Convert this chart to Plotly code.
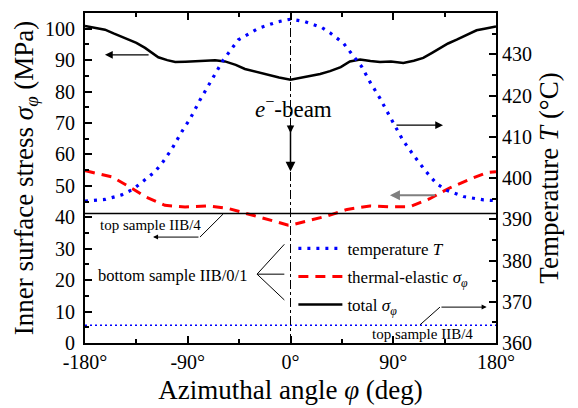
import plotly.graph_objects as go

# ---------------- data ----------------
phi_total = [-180, -170, -162.5, -155, -145, -135, -127.4, -120, -115.8, -108, -101, -92,
             -83.6, -75, -66, -57.4, -48, -39.9, -30, -22.3, -10, 0, 8, 17, 26, 34.6, 44,
             52, 61, 70, 78.4, 88, 98.8, 108, 116.3, 124, 130.9, 138, 145.6, 155, 163, 170,
             177.6, 180]
sigma_total = [100.9, 100.3, 99.7, 98.5, 97.0, 95.5, 93.9, 92.0, 90.9, 90.0, 89.4, 89.5,
               89.6, 89.8, 90.0, 89.6, 88.5, 87.2, 86.3, 85.4, 84.5, 83.8, 84.3, 84.9, 85.6,
               86.5, 87.8, 89.6, 90.2, 89.7, 89.4, 89.6, 89.1, 89.8, 90.7, 92.3, 93.9, 95.3,
               96.5, 98.2, 99.5, 100.0, 100.7, 100.7]

phi_temp = [-180, -162.5, -147.9, -137.7, -126, -118.8, -111.5, -104, -95.3, -88, -79.3,
            -69, -58.9, -45.7, -28.2, -10.7, 0, 4.4, 12.7, 27.3, 34.6, 46.3, 52, 62.3, 69.6,
            78.4, 87, 98.8, 108.4, 118, 128, 137, 151.5, 169, 180]
temp_T = [394.4, 394.8, 395.9, 397.3, 399.9, 401.5, 404.0, 407.0, 411.2, 414.3, 418.9,
          423.8, 428.6, 433.5, 436.3, 437.9, 438.5, 438.3, 437.9, 436.5, 435.2, 432.7, 430.6,
          427.0, 423.3, 419.3, 414.9, 409.0, 405.3, 401.8, 398.6, 397.0, 395.5, 394.7, 394.5]

phi_therm = [-180, -178.5, -156.7, -142, -127.4, -110, -92.4, -72, -54.5, -37, -19.5, -1.9,
             0, 14.6, 32, 49.6, 69.6, 87, 104.6, 122, 139.7, 157, 171.9, 180]
sigma_therm = [54.8, 54.7, 52.9, 49.9, 46.6, 43.8, 43.3, 43.6, 42.8, 41.0, 39.2, 37.5,
               37.5, 38.8, 40.4, 42.5, 43.6, 43.3, 43.4, 45.9, 49.4, 52.1, 54.2, 54.5]

phi_span = [-180, 180]
sigma_total_top = 41.2     # top sample IIB/4, total stress (MPa)
temp_top = 364.3           # top sample IIB/4, temperature (°C)

x_tickvals = [-180, -90, 0, 90, 180]
x_ticktext = ["-180°", "-90°", "0°", "90°", "180°"]

FONT = "Liberation Serif"

fig = go.Figure()

fig.add_trace(go.Scatter(
    x=phi_temp, y=temp_T, yaxis="y2", mode="lines", name="temperature <i>T</i>",
    legendgroup="a", line=dict(color="#0000ff", width=3.2, dash="3px,6px")))
fig.add_trace(go.Scatter(
    x=phi_therm, y=sigma_therm, mode="lines", name="thermal-elastic <i>σ</i><sub><i>φ</i></sub>",
    legendgroup="b", line=dict(color="#ff0000", width=3, dash="10px,7px")))
fig.add_trace(go.Scatter(
    x=phi_total, y=sigma_total, mode="lines", name="total <i>σ</i><sub><i>φ</i></sub>",
    legendgroup="c", line=dict(color="black", width=2.5)))
fig.add_trace(go.Scatter(
    x=phi_span, y=[sigma_total_top] * 2, mode="lines", showlegend=False,
    line=dict(color="black", width=1.3)))
fig.add_trace(go.Scatter(
    x=phi_span, y=[temp_top] * 2, yaxis="y2", mode="lines", showlegend=False,
    line=dict(color="#0000ff", width=1.5, dash="2px,3px")))

ann = []
# arrows showing which axis belongs to which curve
ann.append(dict(x=-162.5, y=91.7, ax=-123, ay=91.7, xref="x", yref="y", axref="x", ayref="y",
                text="", showarrow=True, arrowhead=2, arrowsize=1.2, arrowwidth=1.3,
                arrowcolor="black"))
ann.append(dict(x=133.6, y=412.8, ax=91.5, ay=412.8, xref="x", yref="y2", axref="x", ayref="y2",
                text="", showarrow=True, arrowhead=2, arrowsize=1.2, arrowwidth=1.3,
                arrowcolor="black"))
ann.append(dict(x=87.1, y=47, ax=128, ay=47, xref="x", yref="y", axref="x", ayref="y",
                text="", showarrow=True, arrowhead=2, arrowsize=1.0, arrowwidth=2,
                arrowcolor="#808080"))
# e-beam
ann.append(dict(x=3, y=75.0, xref="x", yref="y", text="<i>e</i><sup>−</sup>-beam",
                showarrow=False, font=dict(family=FONT, size=23, color="black")))
ann.append(dict(x=0, y=54.6, ax=0, ay=69.8, xref="x", yref="y", axref="x", ayref="y",
                text="", showarrow=True, arrowhead=2, arrowsize=1.3, arrowwidth=1.5,
                arrowcolor="black"))
ann.append(dict(x=0, y=66.8, ax=0, ay=69.8, xref="x", yref="y", axref="x", ayref="y",
                text="", showarrow=True, arrowhead=2, arrowsize=1.0, arrowwidth=1.5,
                arrowcolor="black"))
# labels
ann.append(dict(x=-122.2, y=37.6, xref="x", yref="y", text="top sample IIB/4",
                showarrow=False, font=dict(family=FONT, size=15, color="black")))
ann.append(dict(x=-120.4, y=33.7, ax=-79.3, ay=33.7, xref="x", yref="y", axref="x", ayref="y",
                text="", showarrow=True, arrowhead=2, arrowsize=1.0, arrowwidth=1,
                arrowcolor="black"))
ann.append(dict(x=-103.4, y=21.6, xref="x", yref="y", text="bottom sample IIB/0/1",
                showarrow=False, font=dict(family=FONT, size=16.5, color="black")))
ann.append(dict(x=115.5, y=362.1, xref="x", yref="y2", text="top sample IIB/4",
                showarrow=False, font=dict(family=FONT, size=15, color="black")))
ann.append(dict(x=171.8, y=368.7, ax=130.9, ay=368.7, xref="x", yref="y2", axref="x", ayref="y2",
                text="", showarrow=True, arrowhead=2, arrowsize=1.0, arrowwidth=1,
                arrowcolor="black"))

shapes = [
    dict(type="line", xref="x", yref="paper", x0=0, x1=0, y0=0, y1=1,
         line=dict(color="black", width=1, dash="dashdot")),
    dict(type="line", xref="x", yref="y", x0=-59.1, y0=41.0, x1=-79.3, y1=33.7,
         line=dict(color="black", width=1)),
    dict(type="line", xref="x", yref="y", x0=-29.3, y0=21.9, x1=-5.4, y1=31.4,
         line=dict(color="black", width=1)),
    dict(type="line", xref="x", yref="y", x0=-29.3, y0=21.9, x1=-5.4, y1=21.9,
         line=dict(color="black", width=1)),
    dict(type="line", xref="x", yref="y", x0=-29.3, y0=21.9, x1=-5.4, y1=13.7,
         line=dict(color="black", width=1)),
    dict(type="line", xref="x", yref="y2", x0=113.4, y0=364.4, x1=130.9, y1=368.7,
         line=dict(color="black", width=1)),
]

fig.update_layout(
    width=570, height=400,
    margin=dict(l=77, r=82, t=5, b=65, autoexpand=False),
    paper_bgcolor="white", plot_bgcolor="white",
    font=dict(family=FONT, color="black"),
    showlegend=True,
    legend=dict(x=0.507, y=0.34, xanchor="left", yanchor="top", bgcolor="rgba(0,0,0,0)",
                font=dict(family=FONT, size=17, color="black"), itemwidth=44,
                tracegroupgap=3, traceorder="grouped"),
    xaxis=dict(range=[-180, 180], tickvals=x_tickvals, ticktext=x_ticktext,
               ticks="inside", ticklen=7, tickwidth=1.5, tickcolor="black",
               showline=True, linecolor="black", linewidth=2, mirror="ticks",
               showgrid=False, zeroline=False, automargin=False,
               minor=dict(dtick=45, tick0=0, ticks="inside", ticklen=4, tickwidth=1.5,
                          tickcolor="black", showgrid=False),
               tickfont=dict(family=FONT, size=20, color="black"),
               title=dict(text="Azimuthal angle <i>φ</i> (deg)", standoff=8,
                          font=dict(family=FONT, size=27, color="black"))),
    yaxis=dict(range=[0, 105], tickvals=[0, 10, 20, 30, 40, 50, 60, 70, 80, 90, 100],
               ticks="inside", ticklen=7, tickwidth=1.5, tickcolor="black",
               showline=True, linecolor="black", linewidth=2,
               showgrid=False, zeroline=False, automargin=False, ticklabelstandoff=4,
               minor=dict(dtick=5, tick0=0, ticks="inside", ticklen=4, tickwidth=1.5,
                          tickcolor="black", showgrid=False),
               tickfont=dict(family=FONT, size=20, color="black"),
               title=dict(text="Inner surface stress <i>σ</i><sub><i>φ</i></sub> (MPa)", standoff=4,
                          font=dict(family=FONT, size=27, color="black"))),
    yaxis2=dict(range=[360, 440], overlaying="y", side="right", dtick=10, tick0=360,
                ticks="inside", ticklen=7, tickwidth=1.5, tickcolor="black",
                showline=True, linecolor="black", linewidth=2,
                showgrid=False, zeroline=False, automargin=False,
                minor=dict(dtick=5, tick0=360, ticks="inside", ticklen=4, tickwidth=1.5,
                           tickcolor="black", showgrid=False),
                tickfont=dict(family=FONT, size=20, color="black"),
                title=dict(text="Temperature <i>T</i> (°C)", standoff=8,
                           font=dict(family=FONT, size=27, color="black"))),
    annotations=ann,
    shapes=shapes,
)

fig.write_html("out.html")
